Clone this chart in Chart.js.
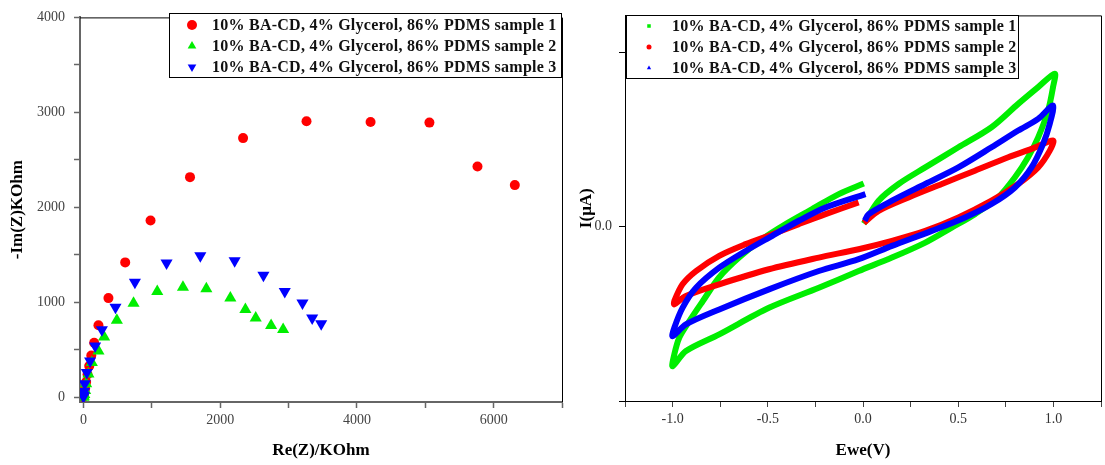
<!DOCTYPE html>
<html>
<head>
<meta charset="utf-8">
<script src="https://cdn.jsdelivr.net/npm/chart.js@4.4.1/dist/chart.umd.min.js"></script>
<style>
  html, body { margin: 0; padding: 0; background: #fff; }
  #nyquist { position: absolute; left: 0; top: 0; }
  #cv { position: absolute; left: 575px; top: 0; }
</style>
</head>
<body>
<canvas id="nyquist" width="575" height="465" style="width:575px;height:465px"></canvas>
<canvas id="cv" width="530" height="465" style="width:530px;height:465px"></canvas>
<script>
// legend labels (same text in both panels)
const sampleLabels = [
  '10% BA-CD, 4% Glycerol, 86% PDMS sample 1',
  '10% BA-CD, 4% Glycerol, 86% PDMS sample 2',
  '10% BA-CD, 4% Glycerol, 86% PDMS sample 3'
];

// --- Nyquist plot (left), Re(Z) and -Im(Z) in KOhm ---
const reS1 = [0, 5, 12, 25, 40, 60, 85, 115, 157, 220, 366, 611, 982, 1559, 2335, 3263, 4200, 5061, 5764, 6310];
const imS1 = [5, 15, 40, 90, 160, 240, 330, 440, 574, 759, 1044, 1420, 1862, 2318, 2729, 2906, 2899, 2892, 2429, 2234];
const reS2 = [0, 5, 12, 25, 40, 73, 123, 220, 303, 489, 733, 1080, 1456, 1798, 2149, 2369, 2520, 2745, 2921];
const imS2 = [0, 10, 30, 70, 143, 244, 365, 488, 634, 811, 989, 1114, 1159, 1142, 1044, 923, 835, 756, 714];
const reS3 = [0, 5, 10, 20, 50, 98, 171, 270, 469, 753, 1216, 1710, 2212, 2633, 2945, 3204, 3346, 3478];
const imS3 = [5, 20, 60, 143, 261, 383, 540, 710, 947, 1211, 1414, 1490, 1438, 1284, 1114, 992, 835, 773];
const nyqXTicks = [0, 1000, 2000, 3000, 4000, 5000, 6000, 7000];
const nyqYTicks = [0, 500, 1000, 1500, 2000, 2500, 3000, 3500, 4000];

// --- cyclic voltammetry (right), Ewe in V and I in uA ---
const eweS1 = [0.004, 0.082, 0.187, 0.327, 0.501, 0.675, 0.815, 0.920, 1.007,
  0.998, 0.972, 0.920, 0.867, 0.798, 0.710, 0.588, 0.466, 0.327, 0.152, -0.023, -0.232, -0.494, -0.755, -0.930, -1.0,
  -0.991, -0.965, -0.912, -0.841, -0.755, -0.651, -0.529, -0.406, -0.267, -0.127, 0.004];
const curS1 = [0.016, 0.148, 0.244, 0.339, 0.454, 0.569, 0.703, 0.799, 0.876,
  0.799, 0.665, 0.511, 0.397, 0.282, 0.167, 0.071, -0.006, -0.092, -0.178, -0.255, -0.351, -0.466, -0.618, -0.714, -0.801,
  -0.733, -0.638, -0.542, -0.427, -0.291, -0.178, -0.072, 0.014, 0.100, 0.186, 0.247];
const eweS2 = [0.004, 0.082, 0.239, 0.414, 0.588, 0.763, 0.885, 0.998,
  0.981, 0.920, 0.815, 0.675, 0.501, 0.327, 0.152, -0.023, -0.232, -0.494, -0.755, -0.930, -0.991,
  -0.991, -0.948, -0.877, -0.755, -0.616, -0.476, -0.337, -0.197, -0.023];
const curS2 = [0.021, 0.090, 0.167, 0.244, 0.320, 0.397, 0.445, 0.493,
  0.435, 0.339, 0.244, 0.148, 0.052, -0.025, -0.082, -0.130, -0.178, -0.245, -0.331, -0.398, -0.446,
  -0.427, -0.331, -0.255, -0.168, -0.101, -0.044, 0.014, 0.071, 0.138];
const eweS3 = [0.009, 0.030, 0.152, 0.327, 0.501, 0.675, 0.815, 0.920, 0.998,
  0.981, 0.946, 0.885, 0.798, 0.675, 0.536, 0.361, 0.152, -0.023, -0.232, -0.494, -0.755, -0.930, -1.0,
  -0.991, -0.948, -0.877, -0.755, -0.616, -0.476, -0.337, -0.197, 0.013];
const curS3 = [0.033, 0.071, 0.148, 0.244, 0.339, 0.454, 0.550, 0.617, 0.694,
  0.589, 0.474, 0.339, 0.224, 0.129, 0.052, -0.025, -0.111, -0.187, -0.255, -0.360, -0.475, -0.561, -0.628,
  -0.580, -0.466, -0.351, -0.236, -0.140, -0.053, 0.033, 0.109, 0.186];
const cvXTicks = [-1.25, -1.0, -0.75, -0.5, -0.25, 0, 0.25, 0.5, 0.75, 1.0, 1.25];
const cvYTicks = [-1, 0, 1];

const serif = '"Liberation Serif", "Times New Roman", serif';

function pairs(xs, ys) {
  return xs.map((x, i) => ({ x: x, y: ys[i] }));
}

function fixedTicks(values) {
  return scale => { scale.ticks = values.map(v => ({ value: v })); };
}

// legend drawn inside a framed box, plus the black top/right frame of the plot
function framePlugin(box) {
  return {
    id: 'frame',
    afterDraw(chart) {
      const ctx = chart.ctx;
      const a = chart.chartArea;
      ctx.save();
      ctx.strokeStyle = '#000';
      ctx.lineWidth = 1;
      ctx.beginPath();
      ctx.moveTo(a.left, a.top + 0.5);
      ctx.lineTo(a.right + 0.5, a.top + 0.5);
      ctx.lineTo(a.right + 0.5, a.bottom);
      ctx.stroke();

      ctx.fillStyle = '#fff';
      ctx.fillRect(box.x, box.y, box.w, box.h);
      ctx.strokeRect(box.x + 0.5, box.y + 0.5, box.w, box.h);
      ctx.font = 'bold 16px ' + serif;
      ctx.letterSpacing = '0.25px';
      ctx.textBaseline = 'middle';
      chart.data.datasets.forEach((ds, i) => {
        const y = box.y + box.rowTop + i * box.rowGap;
        ctx.fillStyle = ds.pointBackgroundColor;
        ctx.strokeStyle = ds.pointBackgroundColor;
        Chart.helpers.drawPoint(ctx, {
          pointStyle: ds.legendStyle,
          radius: box.markerR,
          rotation: ds.legendRotation || 0,
          borderWidth: 0
        }, box.markerX, y);
        ctx.fillStyle = '#111';
        ctx.fillText(ds.label, box.textX, y + 1);
      });
      ctx.restore();
    }
  };
}

// ---------- left: Nyquist ----------
const nyqColors = ['#ff0000', '#00ee00', '#0000ff'];
new Chart(document.getElementById('nyquist'), {
  type: 'scatter',
  data: {
    datasets: [
      { label: sampleLabels[0], data: pairs(reS1, imS1), pointStyle: 'circle', legendStyle: 'circle',
        pointRadius: 5, pointBackgroundColor: nyqColors[0], pointBorderWidth: 0, order: 3 },
      { label: sampleLabels[1], data: pairs(reS2, imS2), pointStyle: 'triangle', legendStyle: 'triangle',
        pointRadius: 7, pointBackgroundColor: nyqColors[1], pointBorderWidth: 0, order: 2 },
      { label: sampleLabels[2], data: pairs(reS3, imS3), pointStyle: 'triangle', legendStyle: 'triangle',
        pointRotation: 180, legendRotation: 180,
        pointRadius: 7, pointBackgroundColor: nyqColors[2], pointBorderWidth: 0, order: 1 }
    ]
  },
  options: {
    responsive: false,
    animation: false,
    layout: { padding: { top: 13, right: 13, left: 0, bottom: 0 } },
    plugins: { legend: { display: false }, tooltip: { enabled: false } },
    scales: {
      x: {
        type: 'linear', min: -50, max: 7000,
        afterBuildTicks: fixedTicks(nyqXTicks),
        afterFit: s => { s.height = 63; },
        border: { color: '#666', width: 2 },
        grid: { drawOnChartArea: false, tickLength: 6, tickColor: '#666', tickWidth: 1.5 },
        ticks: { autoSkip: false, maxRotation: 0, padding: 4, color: '#444',
                 font: { family: serif, size: 14 },
                 callback: v => (v % 2000 === 0 ? String(v) : '') },
        title: { display: true, text: 'Re(Z)/KOhm', color: '#000', padding: { bottom: 4 },
                 font: { family: serif, size: 17, weight: 'bold' } }
      },
      y: {
        type: 'linear', min: -50, max: 4000,
        afterBuildTicks: fixedTicks(nyqYTicks),
        afterFit: s => { s.width = 80; },
        border: { color: '#666', width: 2 },
        grid: { drawOnChartArea: false, tickLength: 6, tickColor: '#666', tickWidth: 1.5 },
        ticks: { autoSkip: false, padding: 9, color: '#444',
                 font: { family: serif, size: 14 },
                 callback: v => (v % 1000 === 0 ? String(v) : '') },
        title: { display: true, text: '-Im(Z)KOhm', color: '#000', padding: { top: 7 },
                 font: { family: serif, size: 17, weight: 'bold' } }
      }
    }
  },
  plugins: [framePlugin({ x: 169, y: 13, w: 392, h: 64, rowTop: 12, rowGap: 21,
                          markerX: 192, markerR: 5, textX: 212 })]
});

// ---------- right: cyclic voltammetry ----------
const cvColors = ['#00ee00', '#ff0000', '#0000ff'];
function cvSet(label, xs, ys, color, style, rot, order) {
  return {
    label: label, data: pairs(xs, ys), showLine: true, tension: 0.3,
    borderColor: color, borderWidth: 6, pointRadius: 0,
    pointBackgroundColor: color, legendStyle: style, legendRotation: rot, order: order
  };
}
new Chart(document.getElementById('cv'), {
  type: 'scatter',
  data: {
    datasets: [
      cvSet(sampleLabels[0], eweS1, curS1, cvColors[0], 'rect', 0, 3),
      cvSet(sampleLabels[1], eweS2, curS2, cvColors[1], 'circle', 0, 2),
      cvSet(sampleLabels[2], eweS3, curS3, cvColors[2], 'triangle', 0, 1)
    ]
  },
  options: {
    responsive: false,
    animation: false,
    layout: { padding: { top: 15, right: 4, left: 0, bottom: 0 } },
    plugins: { legend: { display: false }, tooltip: { enabled: false } },
    scales: {
      x: {
        type: 'linear', min: -1.25, max: 1.25,
        afterBuildTicks: fixedTicks(cvXTicks),
        afterFit: s => { s.height = 64; },
        border: { color: '#000', width: 1 },
        grid: { drawOnChartArea: false, tickLength: 6, tickColor: '#444' },
        ticks: { autoSkip: false, maxRotation: 0, padding: 4, color: '#333',
                 font: { family: serif, size: 14 },
                 callback: v => (Math.abs(v * 2 - Math.round(v * 2)) < 1e-9 ? v.toFixed(1) : '') },
        title: { display: true, text: 'Ewe(V)', color: '#000', padding: { bottom: 4 },
                 font: { family: serif, size: 17, weight: 'bold' } }
      },
      y: {
        type: 'linear', min: -1.0, max: 1.21,
        afterBuildTicks: fixedTicks(cvYTicks),
        afterFit: s => { s.width = 50; },
        border: { color: '#000', width: 1 },
        grid: { drawOnChartArea: false, tickLength: 6, tickColor: '#000' },
        ticks: { autoSkip: false, padding: 7, color: '#333',
                 font: { family: serif, size: 14 },
                 callback: v => (v === 0 ? '0.0' : '') },
        title: { display: true, text: 'I(\u03bcA)', color: '#000', padding: { top: 1 },
                 font: { family: serif, size: 17, weight: 'bold' } }
      }
    }
  },
  plugins: [framePlugin({ x: 51, y: 15, w: 392, h: 63, rowTop: 11, rowGap: 21,
                          markerX: 74, markerR: 2.5, textX: 97 })]
});
</script>
</body>
</html>
